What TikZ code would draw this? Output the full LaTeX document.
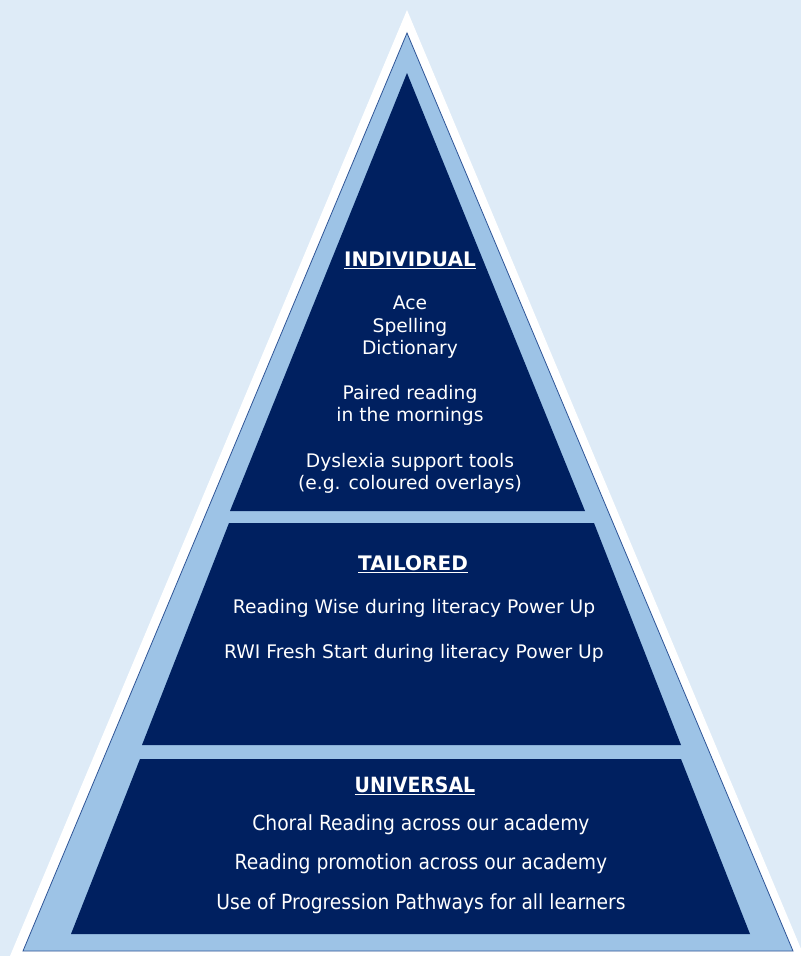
\documentclass[tikz,border=0pt]{standalone}
\usepackage{fontspec}
\setmainfont{DejaVu Sans}
\newfontfamily\condfont{DejaVu Sans Condensed}
\usetikzlibrary{positioning}
\definecolor{bgblue}{HTML}{DEEBF7}
\definecolor{midblue}{HTML}{9DC3E6}
\definecolor{navy}{HTML}{002060}
\definecolor{edgeblue}{HTML}{2F5597}
\tikzstyle{tier}=[fill=navy]
\tikzstyle{tiertitle}=[text=white, inner sep=1pt, font=\bfseries\fontsize{20}{22}\selectfont]
\tikzstyle{tiertext}=[text=white, inner sep=0pt, align=center, font=\fontsize{18.7}{22.5}\selectfont]

\begin{document}
\begin{tikzpicture}[x=1pt,y=-1pt]
    \useasboundingbox[fill=bgblue](0,0) rectangle (801,956);

    % outer white and light blue triangles
    \fill[white](407,10) -- (804,956) -- (10,956) -- cycle;
    \draw[edgeblue, fill=midblue, line width=0.8pt](407,33) -- (793,951) -- (23,951) -- cycle;

    % the three tiers
    \fill[tier](407,73) -- (585,511) -- (230,511) -- cycle;
    \fill[tier](229,523) -- (594,523) -- (681,745) -- (142,745) -- cycle;
    \fill[tier](140,759) -- (681,759) -- (750,934) -- (71,934) -- cycle;

    \node[tiertitle](individual) at (410,260){\underline{INDIVIDUAL}};
    \node[tiertext](individual_text) at (410,395){Ace\\Spelling\\Dictionary\\[22pt]Paired reading\\in the mornings\\[23pt]Dyslexia support tools\\(e.g. coloured overlays)};

    \node[tiertitle](tailored) at (413,564){\underline{TAILORED}};
    \node[tiertext](tailored_text) at (414,631){Reading Wise during literacy Power Up\\[22pt]RWI Fresh Start during literacy Power Up};

    \node[tiertitle, font=\condfont\bfseries\fontsize{21}{24}\selectfont](universal) at (415,786){\underline{UNIVERSAL}};
    \node[tiertext, font=\condfont\fontsize{20.8}{39.5}\selectfont](universal_text) at (421,864){Choral Reading across our academy\\Reading promotion across our academy\\Use of Progression Pathways for all learners};
\end{tikzpicture}
\end{document}
